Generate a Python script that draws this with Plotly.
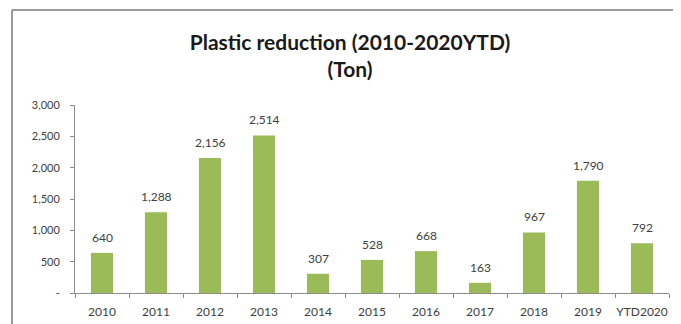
import plotly.graph_objects as go

categories = ["2010", "2011", "2012", "2013", "2014", "2015", "2016", "2017", "2018", "2019", "YTD2020"]
values = [640, 1288, 2156, 2514, 307, 528, 668, 163, 967, 1790, 792]
y_tickvals = [0, 500, 1000, 1500, 2000, 2500, 3000]
y_ticktext = ["-", "500", "1,000", "1,500", "2,000", "2,500", "3,000"]
value_labels = [f"{v:,}" for v in values]

FONT = "Lato"
TXT = "#404040"
AXIS = "#8c8c8c"

# page body has an 8px margin, so figure coords = screen coords - 8
OFF = 8
W, H = 681 - OFF, 324 - OFF
l, r, t, b = 75 - OFF, 12, 105 - OFF, 31
pw = W - l - r
ph = H - t - b

def px_x(sx):
    return (sx - OFF - l) / pw

def px_y(sy):
    return (H - b - (sy - OFF)) / ph

fig = go.Figure(
    go.Bar(
        x=categories,
        y=values,
        marker=dict(color="#9BBB59", line=dict(width=0)),
        cliponaxis=False,
        hoverinfo="x+y",
    )
)

annotations = [
    dict(x=i, y=v, xref="x", yref="y", text=lbl, showarrow=False,
         yanchor="bottom", yshift=6,
         font=dict(family=FONT, size=12, color=TXT))
    for i, (v, lbl) in enumerate(zip(values, value_labels))
]

fig.update_layout(
    width=W,
    height=H,
    margin=dict(l=l, r=r, t=t, b=b, autoexpand=False),
    paper_bgcolor="white",
    plot_bgcolor="white",
    bargap=0.59,
    showlegend=False,
    font=dict(family=FONT, size=12, color=TXT),
    title=dict(
        text="<b>Plastic reduction (2010-2020YTD)<br>(Ton)</b>",
        x=(350 - OFF) / W,
        xanchor="center",
        y=1 - 42 / H,
        yanchor="top",
        automargin=False,
        font=dict(family=FONT, size=21, color="#1a1a1a"),
    ),
    annotations=annotations,
    xaxis=dict(
        type="category",
        categoryorder="array",
        categoryarray=categories,
        range=[-0.5, len(categories) - 0.5],
        showline=True,
        linecolor=AXIS,
        linewidth=1,
        ticks="outside",
        tickson="boundaries",
        ticklen=4,
        tickcolor=AXIS,
        showgrid=False,
        tickangle=0,
        automargin=False,
        ticklabelstandoff=8,
        tickfont=dict(family=FONT, size=12, color=TXT),
        fixedrange=True,
    ),
    yaxis=dict(
        range=[0, 3000],
        tickvals=y_tickvals,
        ticktext=y_ticktext,
        showline=True,
        linecolor=AXIS,
        linewidth=1,
        ticks="outside",
        ticklen=4,
        tickcolor=AXIS,
        showgrid=False,
        zeroline=False,
        automargin=False,
        ticklabelstandoff=8,
        tickfont=dict(family=FONT, size=11, color=TXT),
        fixedrange=True,
    ),
    shapes=[
        dict(type="line", xref="paper", yref="paper",
             x0=px_x(12), x1=px_x(700), y0=px_y(10), y1=px_y(10),
             line=dict(color="#9a9a9a", width=2)),
        dict(type="line", xref="paper", yref="paper",
             x0=px_x(12), x1=px_x(12), y0=px_y(10), y1=px_y(340),
             line=dict(color="#9a9a9a", width=2)),
    ],
)

fig.write_html("out.html")
